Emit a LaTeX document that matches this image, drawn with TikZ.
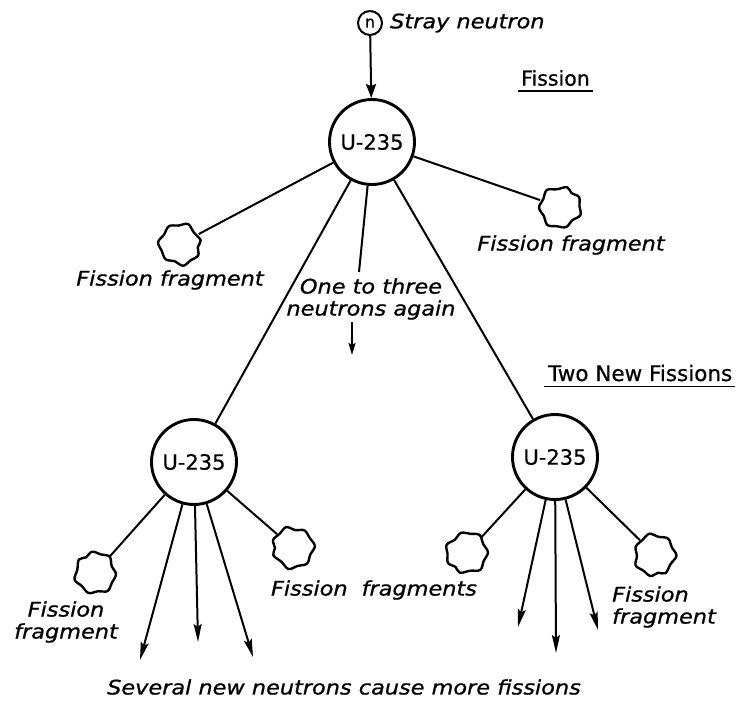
\documentclass[tikz,border=0pt]{standalone}
\usepackage{fontspec}
\setmainfont{DejaVu Sans}
\newfontfamily\hand[FakeStretch=1.12,FakeBold=0.9]{DejaVu Sans}
\newfontfamily\upfont[FakeBold=0.5]{DejaVu Sans}
\usetikzlibrary{arrows.meta}
\tikzset{
  nuc/.style={circle, draw, line width=2.9pt, minimum size=85pt, inner sep=0pt,
    font=\upfont\fontsize{21}{24}\selectfont},
  frag/.style={circle, minimum size=42pt, inner sep=0pt},
  lab/.style={font=\hand\itshape\fontsize{20}{22}\selectfont, inner sep=0pt, align=center},
  headlab/.style={font=\upfont\fontsize{20.5}{24}\selectfont, inner sep=0pt},
  conn/.style={line width=2pt},
  arr/.style={conn, -{Stealth[length=18pt,width=8pt,inset=3pt]}},
  blob/.pic={\draw[line width=2.4pt, line join=round] plot[smooth cycle, tension=0.6]
    coordinates {(0:21) (20:18) (42:21.5) (68:19.5) (92:22) (118:18) (143:21)
                 (170:19.5) (195:22) (220:18.5) (248:21) (275:18.5) (302:21.5) (330:18)};}
}
\begin{document}
\begin{tikzpicture}[x=1pt,y=-1pt]
\useasboundingbox (0,0) rectangle (742,701);

% stray neutron
\node[circle, draw, line width=2pt, minimum size=24pt, inner sep=0pt,
      font=\upfont\fontsize{16}{16}\selectfont] (n) at (370,23) {n};
\node[lab, anchor=west] (sn) at (390,23) {Stray neutron};

% headings
\node[headlab, anchor=west] (h1) at (521,78) {Fission};
\draw[line width=1.7pt] ([xshift=-3pt,yshift=-5pt]h1.south west) -- ([xshift=3pt,yshift=-5pt]h1.south east);
\node[headlab, font=\upfont\fontsize{21.5}{24}\selectfont, anchor=west] (h2) at (548,373) {Two New Fissions};
\draw[line width=1.7pt] ([xshift=-4pt,yshift=-5pt]h2.south west) -- ([xshift=3pt,yshift=-5pt]h2.south east);

% nuclei
\node[nuc] (top) at (372,142) {U-235};
\node[nuc] (ll) at (194,462) {U-235};
\node[nuc] (lr) at (555,457) {U-235};

\draw[conn, -{Stealth[length=14pt,width=10pt,inset=2pt]}] (n) -- (top);

% first fission fragments
\node[frag] (f1) at (180,244) {};
\node[frag] (f2) at (560,207) {};
\pic[rotate=10] at (f1) {blob};
\pic[rotate=70] at (f2) {blob};
\draw[conn] (top) -- (f1);
\draw[conn] (top) -- (f2);
\node[lab] (lf1) at (170,280) {Fission fragment};
\node[lab] (lf2) at (571,245) {Fission fragment};

% neutrons again
\coordinate (m1) at (359,272);
\draw[conn] (top) -- (m1);
\node[lab] (again) at (371,299) {One to three\\neutrons again};
\coordinate (s1) at (352,322);
\coordinate (s2) at (352,355);
\draw[conn, -{Stealth[length=12pt,width=7pt,inset=2pt]}] (s1) -- (s2);

% to new fissions
\draw[conn] (top) -- (ll);
\draw[conn] (top) -- (lr);

% lower left
\node[frag] (f3) at (95,573) {};
\node[frag] (f4) at (293,548) {};
\pic[rotate=140] at (f3) {blob};
\pic[rotate=200] at (f4) {blob};
\draw[conn] (ll) -- (f3);
\draw[conn] (ll) -- (f4);
\coordinate (e1) at (140,660);
\coordinate (e2) at (198,642);
\coordinate (e3) at (253,657);
\draw[arr] (ll) -- (e1);
\draw[arr] (ll) -- (e2);
\draw[arr] (ll) -- (e3);
\node[lab] (lf3) at (66,622) {Fission\\fragment};
\node[lab] (lf4) at (374,590) {Fission\hspace{0.7em}fragments};

% lower right
\node[frag] (f5) at (467,553) {};
\node[frag] (f6) at (655,555) {};
\pic[rotate=250] at (f5) {blob};
\pic[rotate=300] at (f6) {blob};
\draw[conn] (lr) -- (f5);
\draw[conn] (lr) -- (f6);
\coordinate (r1) at (518,627);
\coordinate (r2) at (556,653);
\coordinate (r3) at (598,630);
\draw[arr] (lr) -- (r1);
\draw[arr] (lr) -- (r2);
\draw[arr] (lr) -- (r3);
\node[lab, align=left, anchor=west] (lf5) at (612,607) {Fission\\fragment};

% bottom caption
\node[lab] (cap) at (344,687) {Several new neutrons cause more fissions};
\end{tikzpicture}
\end{document}
